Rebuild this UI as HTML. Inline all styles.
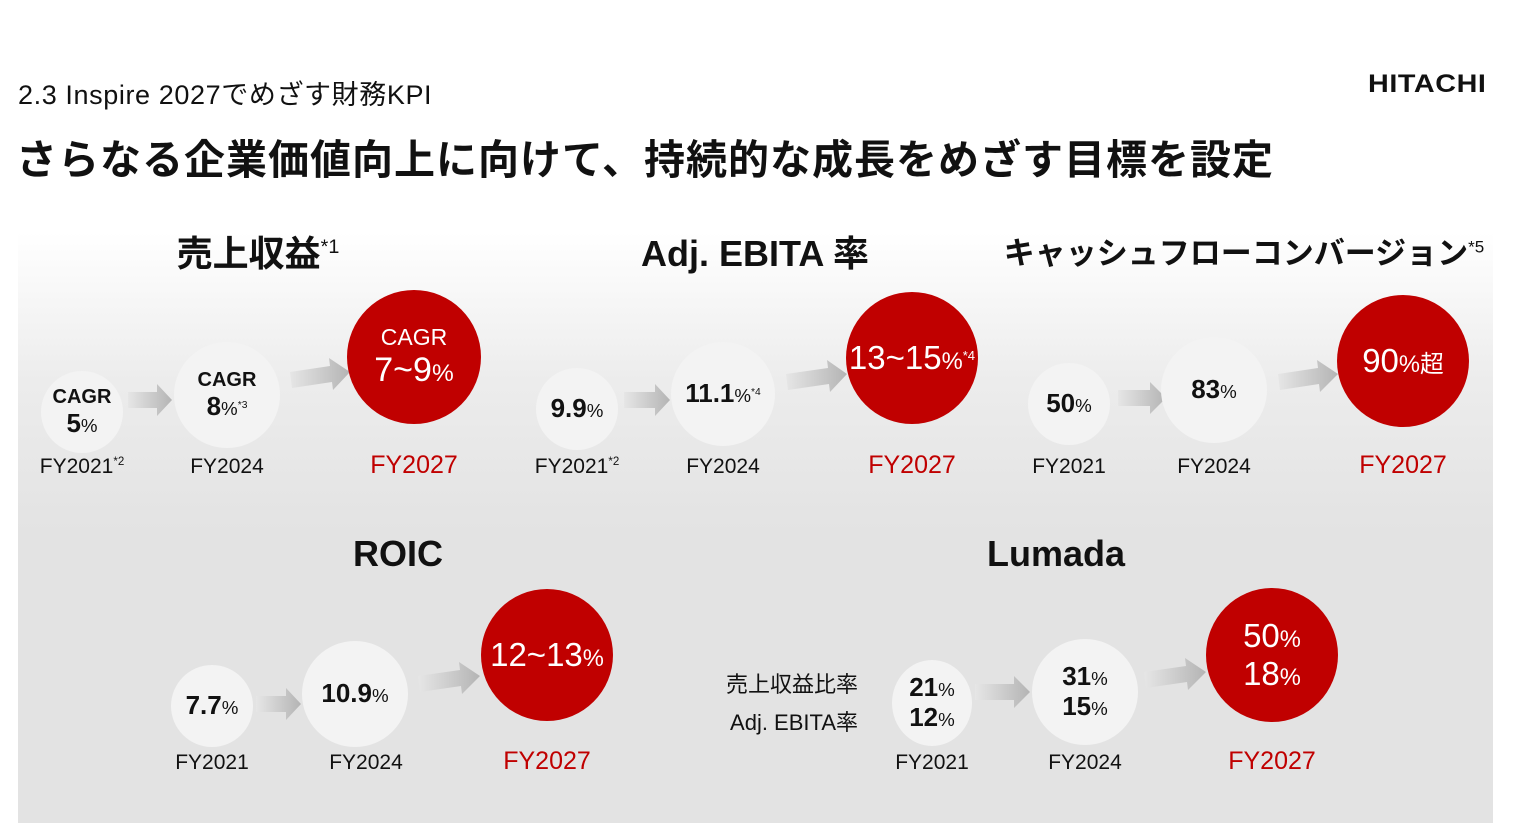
<!DOCTYPE html>
<html><head><meta charset="utf-8"><style>
body{margin:0;width:1521px;height:823px;background:#fff;position:relative;overflow:hidden;font-family:"Liberation Sans","Noto Sans CJK JP",sans-serif;color:#111}
.a{position:absolute}
.panel{left:18px;top:232px;width:1475px;height:591px;background:linear-gradient(#fff 0px,#ececec 150px,#e3e3e3 300px,#e3e3e3 591px)}
.c{position:absolute;border-radius:50%;display:flex;flex-direction:column;align-items:center;justify-content:center;background:#f3f3f3;font-weight:bold;line-height:1.15}
.r{background:#c00000;color:#fff;font-weight:normal}
.p{font-size:0.72em;font-weight:normal}
.lab{position:absolute;font-size:21px;transform:translateX(-50%);white-space:nowrap}
.red{color:#c00000;font-size:25px}
.h{position:absolute;font-weight:bold;font-size:36px;transform:translateX(-50%);white-space:nowrap}
sup{font-size:0.55em;font-weight:normal}
</style></head><body>
<div class="a" style="left:18px;top:73px;font-size:27px;letter-spacing:0.6px">2.3 Inspire 2027でめざす財務KPI</div>
<div class="a" style="left:1368px;top:70px;font-size:25px;font-weight:900;letter-spacing:0.5px;transform:scaleX(1.15);transform-origin:left">HITACHI</div>
<div class="a" style="left:16px;top:126px;font-size:41px;font-weight:bold;letter-spacing:1px">さらなる企業価値向上に向けて、持続的な成長をめざす目標を設定</div>
<div class="a panel"></div>
<svg class="a" style="left:0;top:0" width="1521" height="823">
<defs><linearGradient id="g"><stop offset="0" stop-color="#e6e6e6"/><stop offset="1" stop-color="#b4b4b4"/></linearGradient></defs>
<g fill="url(#g)">
<polygon points="128,392 157,392 157,384 172,400 157,416 157,408 128,408"/>
<polygon points="290,372 330,366 329,358 350,372 333,390 332,382 292,388"/>
<polygon points="624,392 655,392 655,384 670,400 655,416 655,408 624,408"/>
<polygon points="786,374 828,368 827,360 847,374 830,392 829,384 788,390"/>
<polygon points="1118,390 1150,390 1150,382 1166,398 1150,414 1150,406 1118,406"/>
<polygon points="1278,374 1318,368 1317,360 1338,374 1320,392 1319,384 1280,390"/>
<polygon points="256,696 286,696 286,688 301,704 286,720 286,712 256,712"/>
<polygon points="418,676 460,670 459,662 480,676 462,694 461,686 420,692"/>
<polygon points="975,684 1014,684 1014,676 1030,692 1014,708 1014,700 975,700"/>
<polygon points="1144,672 1186,666 1185,658 1206,672 1188,690 1187,682 1146,688"/>
</g></svg>

<div class="h" style="left:258px;top:225px">売上収益<sup>*1</sup></div>
<div class="h" style="left:755px;top:225px">Adj. EBITA 率</div>
<div class="h" style="left:1244px;top:228px;font-size:31px">キャッシュフローコンバージョン<sup>*5</sup></div>
<div class="h" style="left:398px;top:533px">ROIC</div>
<div class="h" style="left:1056px;top:533px">Lumada</div>

<div class="c" style="left:41px;top:371px;width:82px;height:82px;font-size:20px"><div>CAGR</div><div style="font-size:26px">5<span class="p">%</span></div></div>
<div class="c" style="left:174px;top:342px;width:106px;height:106px;font-size:20px"><div>CAGR</div><div style="font-size:26px">8<span class="p">%<sup>*3</sup></span></div></div>
<div class="c r" style="left:347px;top:290px;width:134px;height:134px;font-size:23px"><div>CAGR</div><div style="font-size:34px">7~9<span class="p">%</span></div></div>
<div class="lab" style="left:82px;top:455px">FY2021<sup>*2</sup></div>
<div class="lab" style="left:227px;top:455px">FY2024</div>
<div class="lab red" style="left:414px;top:451px">FY2027</div>

<div class="c" style="left:536px;top:368px;width:82px;height:82px;font-size:26px"><div>9.9<span class="p">%</span></div></div>
<div class="c" style="left:671px;top:342px;width:104px;height:104px;font-size:26px"><div>11.1<span class="p">%<sup>*4</sup></span></div></div>
<div class="c r" style="left:846px;top:292px;width:132px;height:132px;font-size:33px"><div>13~15<span class="p">%<sup>*4</sup></span></div></div>
<div class="lab" style="left:577px;top:455px">FY2021<sup>*2</sup></div>
<div class="lab" style="left:723px;top:455px">FY2024</div>
<div class="lab red" style="left:912px;top:451px">FY2027</div>

<div class="c" style="left:1028px;top:363px;width:82px;height:82px;font-size:26px"><div>50<span class="p">%</span></div></div>
<div class="c" style="left:1161px;top:337px;width:106px;height:106px;font-size:26px"><div>83<span class="p">%</span></div></div>
<div class="c r" style="left:1337px;top:295px;width:132px;height:132px;font-size:33px"><div>90<span class="p">%超</span></div></div>
<div class="lab" style="left:1069px;top:455px">FY2021</div>
<div class="lab" style="left:1214px;top:455px">FY2024</div>
<div class="lab red" style="left:1403px;top:451px">FY2027</div>

<div class="c" style="left:171px;top:665px;width:82px;height:82px;font-size:26px"><div>7.7<span class="p">%</span></div></div>
<div class="c" style="left:302px;top:641px;width:106px;height:106px;font-size:26px"><div>10.9<span class="p">%</span></div></div>
<div class="c r" style="left:481px;top:589px;width:132px;height:132px;font-size:33px"><div>12~13<span class="p">%</span></div></div>
<div class="lab" style="left:212px;top:751px">FY2021</div>
<div class="lab" style="left:366px;top:751px">FY2024</div>
<div class="lab red" style="left:547px;top:747px">FY2027</div>

<div class="a" style="left:700px;top:666px;width:158px;text-align:right;font-size:22px;line-height:38px">売上収益比率<br>Adj. EBITA率</div>
<div class="c" style="left:892px;top:660px;width:80px;height:86px;font-size:26px"><div>21<span class="p">%</span></div><div>12<span class="p">%</span></div></div>
<div class="c" style="left:1032px;top:639px;width:106px;height:106px;font-size:26px"><div>31<span class="p">%</span></div><div>15<span class="p">%</span></div></div>
<div class="c r" style="left:1206px;top:588px;width:132px;height:134px;font-size:33px"><div>50<span class="p">%</span></div><div>18<span class="p">%</span></div></div>
<div class="lab" style="left:932px;top:751px">FY2021</div>
<div class="lab" style="left:1085px;top:751px">FY2024</div>
<div class="lab red" style="left:1272px;top:747px">FY2027</div>
</body></html>
